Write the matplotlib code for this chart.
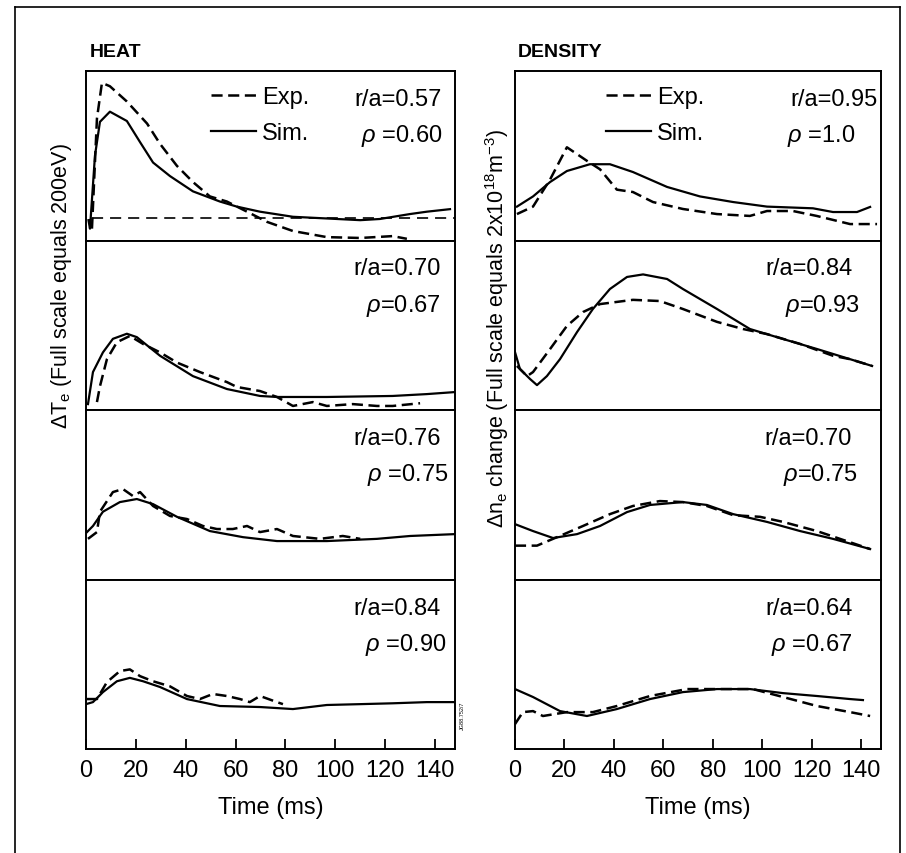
import matplotlib
matplotlib.use('Agg')
import matplotlib.pyplot as plt
from matplotlib.lines import Line2D

plt.rcParams['font.family'] = ['Liberation Sans', 'DejaVu Sans']
plt.rcParams['mathtext.fontset'] = 'custom'
plt.rcParams['mathtext.rm'] = 'Liberation Sans'
plt.rcParams['mathtext.it'] = 'Liberation Sans:italic'
plt.rcParams['lines.scale_dashes'] = False

# values are read off the picture, y in fractions of full scale per panel
# HEAT column, panels from top to bottom
heat1_exp_t = [2.4, 4.4, 6.4, 9.6, 16.4, 24.5, 29.7, 36.5, 42.9, 49.7, 56.5, 64.6, 72.6, 83, 96.6, 110, 123, 128.7]
heat1_exp_y = [0.07, 0.72, 0.93, 0.91, 0.82, 0.69, 0.57, 0.44, 0.345, 0.26, 0.23, 0.17, 0.11, 0.056, 0.02, 0.015, 0.026, 0.01]
heat1_sim_t = [1.0, 1.6, 3.6, 5.6, 9.6, 16.4, 21.7, 26.9, 33.7, 42.9, 53.7, 60.5, 69.8, 83, 96.6, 110, 117.9, 129.9, 136.7, 146]
heat1_sim_y = [0.12, 0.07, 0.5, 0.7, 0.76, 0.705, 0.58, 0.46, 0.38, 0.29, 0.23, 0.2, 0.17, 0.14, 0.13, 0.12, 0.127, 0.156, 0.17, 0.185]
heat1_base_t = [2.4, 148]
heat1_base_y = [0.133, 0.133]

heat2_exp_t = [4.4, 5.6, 8.4, 12.4, 17.6, 22.9, 29.7, 36.5, 45.7, 56.5, 60.5, 69.8, 76.6, 83, 91, 96.6, 107, 116.7, 123, 134]
heat2_exp_y = [0.047, 0.14, 0.3, 0.4, 0.437, 0.39, 0.34, 0.28, 0.224, 0.165, 0.136, 0.112, 0.077, 0.024, 0.047, 0.024, 0.035, 0.024, 0.024, 0.04]
heat2_sim_t = [0.8, 2.8, 6.8, 10.8, 16.4, 20.4, 29.7, 42.9, 56.5, 69.8, 76.6, 96.6, 123, 136.7, 148]
heat2_sim_y = [0.035, 0.224, 0.34, 0.42, 0.45, 0.43, 0.32, 0.2, 0.124, 0.083, 0.077, 0.077, 0.083, 0.094, 0.106]

heat3_exp_t = [0.8, 4.4, 5.6, 10.8, 14.8, 18.8, 21.7, 26.9, 33.7, 40.5, 46.9, 52.5, 58.9, 64.6, 69.8, 76.6, 83, 93.8, 103, 110]
heat3_exp_y = [0.24, 0.28, 0.4, 0.516, 0.534, 0.493, 0.516, 0.434, 0.375, 0.357, 0.316, 0.298, 0.298, 0.316, 0.28, 0.298, 0.257, 0.24, 0.257, 0.24]
heat3_sim_t = [0.4, 2.8, 6.8, 13.6, 20.4, 26.9, 36.5, 49.7, 63, 76.6, 96.6, 116.7, 130, 148]
heat3_sim_y = [0.28, 0.316, 0.4, 0.457, 0.475, 0.445, 0.37, 0.286, 0.25, 0.227, 0.227, 0.24, 0.257, 0.268]

heat4_exp_t = [0.4, 4.4, 8.4, 13.6, 17.6, 21.7, 26.9, 33.7, 40.5, 45.7, 50.9, 56.5, 61.8, 65.7, 69.8, 76.6, 79]
heat4_exp_y = [0.295, 0.295, 0.395, 0.46, 0.47, 0.43, 0.4, 0.37, 0.313, 0.295, 0.325, 0.313, 0.295, 0.277, 0.313, 0.277, 0.265]
heat4_sim_t = [0, 2.8, 6.8, 12.4, 17.6, 22.9, 29.7, 40.5, 53.7, 69.8, 83, 96.6, 110, 123, 136.7, 148]
heat4_sim_y = [0.265, 0.277, 0.336, 0.4, 0.42, 0.4, 0.366, 0.295, 0.254, 0.248, 0.236, 0.26, 0.265, 0.27, 0.277, 0.277]

# DENSITY column, panels from top to bottom
dens1_exp_t = [0.8, 7.3, 14.2, 21, 29.1, 34.4, 41.2, 47.7, 55.8, 67.9, 81.7, 95, 101.9, 112.4, 122, 135.5, 146.4]
dens1_exp_y = [0.156, 0.2, 0.36, 0.55, 0.47, 0.42, 0.3, 0.286, 0.227, 0.186, 0.156, 0.145, 0.174, 0.174, 0.145, 0.097, 0.097]
dens1_sim_t = [0.8, 7.3, 14.2, 21, 30.3, 38.4, 47.7, 61.5, 74.8, 88.2, 101.9, 120.5, 128.6, 138.3, 143.6]
dens1_sim_y = [0.2, 0.26, 0.345, 0.41, 0.45, 0.45, 0.404, 0.316, 0.26, 0.227, 0.2, 0.19, 0.168, 0.168, 0.198]

dens2_exp_t = [0.8, 4.9, 7.3, 14.2, 21, 27.5, 34.4, 47.7, 58.6, 67.9, 81.7, 92.2, 101.9, 115.3, 128.6, 135.5, 144.4]
dens2_exp_y = [0.26, 0.2, 0.224, 0.36, 0.496, 0.578, 0.625, 0.65, 0.643, 0.596, 0.52, 0.478, 0.448, 0.39, 0.32, 0.3, 0.26]
dens2_sim_t = [0, 2, 6.1, 8.9, 12.9, 18.2, 25.1, 31.5, 38.4, 45.3, 51.8, 61.5, 67.9, 81.7, 95, 108.4, 122.1, 135.5, 144.4]
dens2_sim_y = [0.342, 0.242, 0.183, 0.147, 0.2, 0.3, 0.46, 0.596, 0.714, 0.785, 0.8, 0.773, 0.714, 0.596, 0.478, 0.419, 0.36, 0.3, 0.26]

dens3_exp_t = [0, 8.9, 17, 27.5, 38.4, 47.7, 58.6, 67.9, 77.6, 88.2, 99.1, 108.4, 122.1, 135.5, 143.6]
dens3_exp_y = [0.2, 0.2, 0.25, 0.316, 0.386, 0.434, 0.463, 0.457, 0.434, 0.38, 0.37, 0.34, 0.286, 0.22, 0.18]
dens3_sim_t = [0, 7.3, 15.4, 25.1, 34.4, 45.3, 54.6, 67.9, 77.6, 88.2, 101.9, 115.3, 128.6, 143.6]
dens3_sim_y = [0.327, 0.286, 0.245, 0.268, 0.316, 0.398, 0.44, 0.457, 0.44, 0.386, 0.34, 0.286, 0.24, 0.18]

dens4_exp_t = [0, 3.2, 7.3, 11.3, 21, 31.5, 41.2, 54.6, 69.6, 81.7, 96.2, 108.4, 122.1, 135.5, 143.6]
dens4_exp_y = [0.147, 0.218, 0.224, 0.195, 0.218, 0.218, 0.254, 0.313, 0.354, 0.354, 0.354, 0.307, 0.254, 0.218, 0.195]
dens4_sim_t = [0, 7.3, 18.2, 29.1, 41.2, 54.6, 67.9, 81.7, 95, 108.4, 122.1, 135.5, 140.7]
dens4_sim_y = [0.354, 0.307, 0.224, 0.195, 0.236, 0.295, 0.336, 0.354, 0.354, 0.33, 0.313, 0.295, 0.289]

heat_ra = ['r/a=0.57', 'r/a=0.70', 'r/a=0.76', 'r/a=0.84']
heat_rho = [r'$\rho$ =0.60', r'$\rho$=0.67', r'$\rho$ =0.75', r'$\rho$ =0.90']
dens_ra = ['r/a=0.95', 'r/a=0.84', 'r/a=0.70', 'r/a=0.64']
dens_rho = [r'$\rho$ =1.0', r'$\rho$=0.93', r'$\rho$=0.75', r'$\rho$ =0.67']
time_ticks = [0, 20, 40, 60, 80, 100, 120, 140]

heat_exp = [(heat1_exp_t, heat1_exp_y), (heat2_exp_t, heat2_exp_y), (heat3_exp_t, heat3_exp_y), (heat4_exp_t, heat4_exp_y)]
heat_sim = [(heat1_sim_t, heat1_sim_y), (heat2_sim_t, heat2_sim_y), (heat3_sim_t, heat3_sim_y), (heat4_sim_t, heat4_sim_y)]
dens_exp = [(dens1_exp_t, dens1_exp_y), (dens2_exp_t, dens2_exp_y), (dens3_exp_t, dens3_exp_y), (dens4_exp_t, dens4_exp_y)]
dens_sim = [(dens1_sim_t, dens1_sim_y), (dens2_sim_t, dens2_sim_y), (dens3_sim_t, dens3_sim_y), (dens4_sim_t, dens4_sim_y)]

FS = 17
DASH = (8, 4)

fig = plt.figure(figsize=(9.06, 8.54), dpi=100)

# outer frame
fig.add_artist(Line2D([0.0166, 0.0166], [0.0, 0.9906], color='black', lw=1.2, transform=fig.transFigure))
fig.add_artist(Line2D([0.0166, 0.993], [0.9906, 0.9906], color='black', lw=1.2, transform=fig.transFigure))
fig.add_artist(Line2D([0.993, 0.993], [0.0, 0.9906], color='black', lw=1.2, transform=fig.transFigure))

panel_h = 0.1985
top = 0.9157


def make_column(left, width, exps, sims, ras, rhos, ra_x, rho_x, leg_x, title, title_x, ylabel, ylabel_x, ylabel_y):
    axes = []
    for i in range(4):
        ax = fig.add_axes([left, top - panel_h * (i + 1), width, panel_h])
        ax.set_xlim(0, 148)
        ax.set_ylim(0, 1)
        for s in ax.spines.values():
            s.set_linewidth(1.4)
        t, y = exps[i]
        l_exp, = ax.plot(t, y, color='black', lw=1.8, dashes=DASH, label='Exp.')
        t, y = sims[i]
        l_sim, = ax.plot(t, y, color='black', lw=1.6, label='Sim.')
        ax.text(ra_x[i], 0.835, ras[i], transform=ax.transAxes, ha='right', va='center', fontsize=FS)
        ax.text(rho_x[i], 0.62, rhos[i], transform=ax.transAxes, ha='right', va='center', fontsize=FS)
        ax.set_yticks([])
        if i < 3:
            ax.set_xticks([])
        else:
            ax.set_xticks(time_ticks)
            ax.tick_params(axis='x', direction='in', length=7, width=1.3, pad=7, labelsize=FS)
            ax.set_xlabel('Time (ms)', fontsize=FS, labelpad=11)
        if i == 0:
            ax.legend(handles=[l_exp, l_sim], loc='upper left', bbox_to_anchor=(leg_x, 0.91),
                      frameon=False, fontsize=FS, handlelength=1.9, handletextpad=0.25,
                      labelspacing=0.6, borderpad=0, borderaxespad=0)
        axes.append(ax)
    fig.text(title_x, 0.928, title, fontsize=14, fontweight='bold', ha='left', va='bottom')
    fig.text(ylabel_x, ylabel_y, ylabel, rotation=90, fontsize=15.5, ha='center', va='center')
    return axes


heat_axes = make_column(0.0949, 0.4073, heat_exp, heat_sim, heat_ra, heat_rho,
                        [0.965, 0.962, 0.962, 0.962], [0.965, 0.962, 0.982, 0.978], 0.34,
                        'HEAT', 0.099, r'$\Delta$T$_\mathrm{e}$ (Full scale equals 200eV)', 0.068, 0.665)
dens_axes = make_column(0.5684, 0.404, dens_exp, dens_sim, dens_ra, dens_rho,
                        [0.99, 0.923, 0.921, 0.923], [0.929, 0.943, 0.937, 0.923], 0.25,
                        'DENSITY', 0.571, r'$\Delta$n$_\mathrm{e}$ change (Full scale equals 2x10$^{18}$m$^{-3}$)', 0.549, 0.615)

# flat reference line in the top HEAT panel
heat_axes[0].plot(heat1_base_t, heat1_base_y, color='black', lw=1.2, dashes=(8, 5))

# figure reference code at the right edge
heat_axes[3].text(1.012, 0.2, 'JG88.752/7', transform=heat_axes[3].transAxes, rotation=90,
                  fontsize=4, ha='left', va='center')

plt.savefig('out.png', dpi=100)
